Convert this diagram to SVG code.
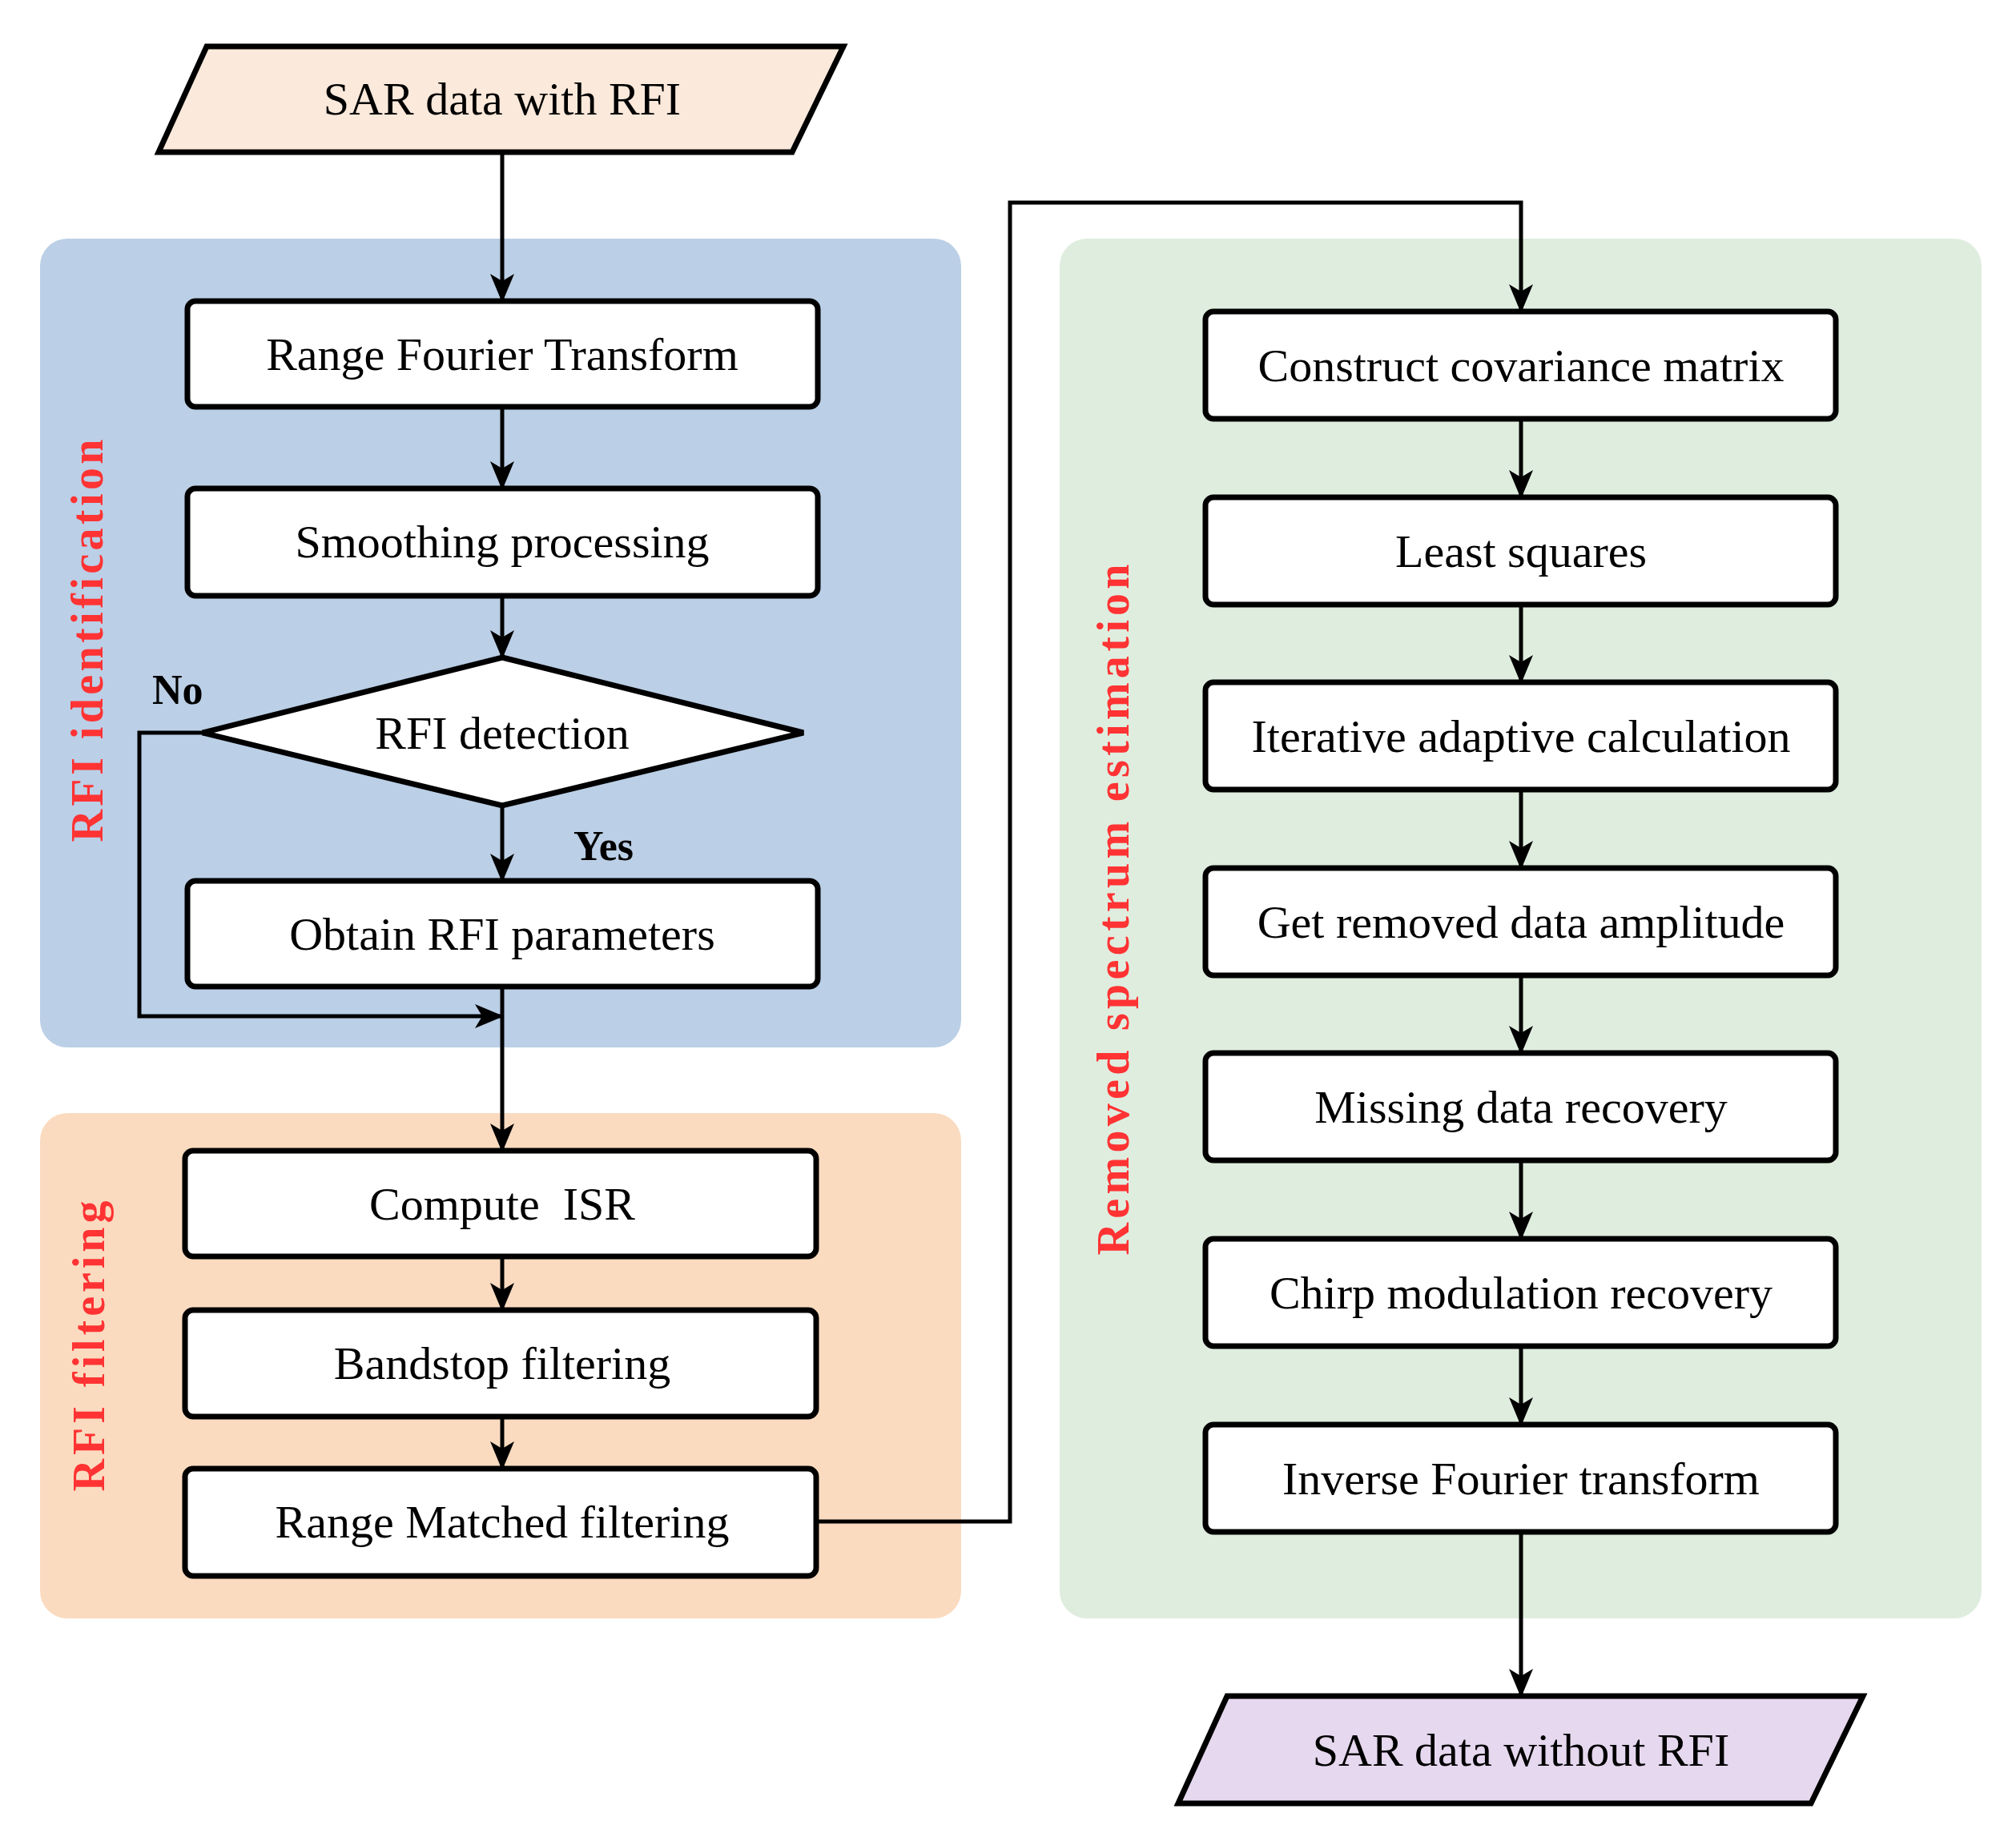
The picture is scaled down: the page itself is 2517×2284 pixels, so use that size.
<svg xmlns="http://www.w3.org/2000/svg" width="2517" height="2284" viewBox="0 0 2517 2284">
<style>
.box{fill:#fff;stroke:#000;stroke-width:7}
.t{font-family:"Liberation Serif",serif;font-size:58px;text-anchor:middle;fill:#000;white-space:pre}
.lab{font-family:"Liberation Serif",serif;font-size:56px;font-weight:bold;fill:#FF3333;text-anchor:middle}
.yn{font-family:"Liberation Serif",serif;font-size:52px;font-weight:bold;fill:#000}
.c{fill:none;stroke:#000;stroke-width:5}
</style>
<defs><marker id="a" viewBox="0 0 36 30" refX="34" refY="15" markerWidth="36" markerHeight="30" markerUnits="userSpaceOnUse" orient="auto"><path d="M0,0 L36,15 L0,30 L9,15 z" fill="#000"/></marker></defs>
<rect x="50" y="298" width="1150" height="1010" rx="34" fill="#BBCFE6"/>
<rect x="50" y="1390" width="1150" height="631" rx="34" fill="#FADBC0"/>
<rect x="1323" y="298" width="1151" height="1723" rx="34" fill="#DFEDDF"/>
<text class="lab" transform="translate(128,800) rotate(-90)" textLength="503" lengthAdjust="spacing">RFI identification</text>
<text class="lab" transform="translate(130,1681) rotate(-90)" textLength="363" lengthAdjust="spacing">RFI filtering</text>
<text class="lab" transform="translate(1409,1136) rotate(-90)" textLength="863" lengthAdjust="spacing">Removed spectrum estimation</text>
<g id="connectors">
<path class="c" d="M627,190 V376" marker-end="url(#a)"/>
<path class="c" d="M627,508 V610" marker-end="url(#a)"/>
<path class="c" d="M627,744 V821" marker-end="url(#a)"/>
<path class="c" d="M627,1006 V1100" marker-end="url(#a)"/>
<path class="c" d="M253,915 H174 V1269 H627" marker-end="url(#a)"/>
<path class="c" d="M627,1232 V1437" marker-end="url(#a)"/>
<path class="c" d="M627,1569 V1636" marker-end="url(#a)"/>
<path class="c" d="M627,1769 V1834" marker-end="url(#a)"/>
<path class="c" d="M1019,1900 H1261 V253 H1899 V389" marker-end="url(#a)"/>
<path class="c" d="M1899,523 V621" marker-end="url(#a)"/>
<path class="c" d="M1899,755 V852" marker-end="url(#a)"/>
<path class="c" d="M1899,986 V1084" marker-end="url(#a)"/>
<path class="c" d="M1899,1218 V1315" marker-end="url(#a)"/>
<path class="c" d="M1899,1449 V1547" marker-end="url(#a)"/>
<path class="c" d="M1899,1681 V1779" marker-end="url(#a)"/>
<path class="c" d="M1899,1913 V2118" marker-end="url(#a)"/>
</g>
<g id="n_in"><polygon points="258,58 1053,58 989,190 198,190" fill="#FBE9DB" stroke="#000" stroke-width="7"/><text class="t" x="627" y="143">SAR data with RFI</text></g>
<g id="n1"><rect class="box" x="234" y="376" width="787" height="132" rx="10"/><text class="t" x="627" y="462">Range Fourier Transform</text></g>
<g id="n2"><rect class="box" x="234" y="610" width="787" height="134" rx="10"/><text class="t" x="627" y="696">Smoothing processing</text></g>
<g id="n3"><polygon points="627,821 1003,915 627,1006 253,915" fill="#fff" stroke="#000" stroke-width="7"/><text class="t" x="627" y="935">RFI detection</text></g>
<text class="yn" x="190" y="879">No</text>
<text class="yn" x="716" y="1074">Yes</text>
<g id="n4"><rect class="box" x="234" y="1100" width="787" height="132" rx="10"/><text class="t" x="627" y="1186">Obtain RFI parameters</text></g>
<g id="n5"><rect class="box" x="231" y="1437" width="788" height="132" rx="10"/><text class="t" x="627" y="1523">Compute  ISR</text></g>
<g id="n6"><rect class="box" x="231" y="1636" width="788" height="133" rx="10"/><text class="t" x="627" y="1722">Bandstop filtering</text></g>
<g id="n7"><rect class="box" x="231" y="1834" width="788" height="134" rx="10"/><text class="t" x="627" y="1920">Range Matched filtering</text></g>
<g id="m1"><rect class="box" x="1505" y="389" width="787" height="134" rx="10"/><text class="t" x="1899" y="476">Construct covariance matrix</text></g>
<g id="m2"><rect class="box" x="1505" y="621" width="787" height="134" rx="10"/><text class="t" x="1899" y="708">Least squares</text></g>
<g id="m3"><rect class="box" x="1505" y="852" width="787" height="134" rx="10"/><text class="t" x="1899" y="939">Iterative adaptive calculation</text></g>
<g id="m4"><rect class="box" x="1505" y="1084" width="787" height="134" rx="10"/><text class="t" x="1899" y="1171">Get removed data amplitude</text></g>
<g id="m5"><rect class="box" x="1505" y="1315" width="787" height="134" rx="10"/><text class="t" x="1899" y="1402">Missing data recovery</text></g>
<g id="m6"><rect class="box" x="1505" y="1547" width="787" height="134" rx="10"/><text class="t" x="1899" y="1634">Chirp modulation recovery</text></g>
<g id="m7"><rect class="box" x="1505" y="1779" width="787" height="134" rx="10"/><text class="t" x="1899" y="1866">Inverse Fourier transform</text></g>
<g id="n_out"><polygon points="1532,2118 2326,2118 2261,2252 1471,2252" fill="#E6D8EF" stroke="#000" stroke-width="7"/><text class="t" x="1899" y="2205">SAR data without RFI</text></g>
</svg>
